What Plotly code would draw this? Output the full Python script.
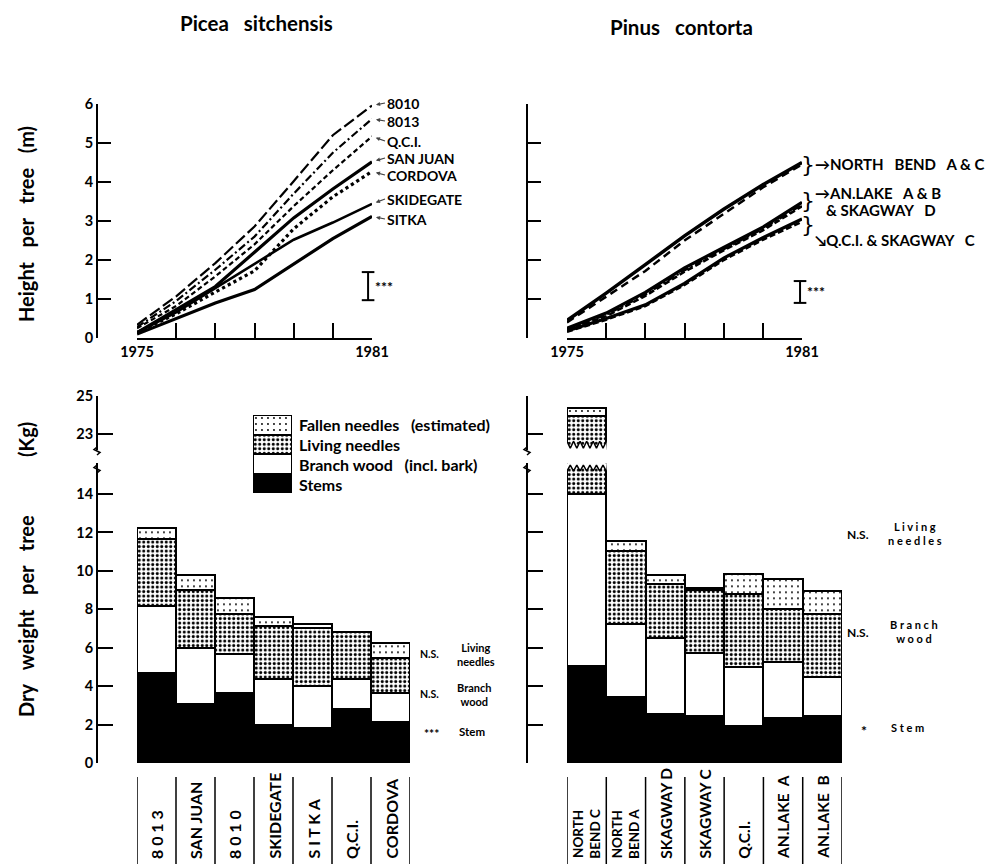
import numpy as np
import plotly.graph_objects as go

W, H = 1000, 864
OFF = 8  # the page body margin shifts the figure; compensate
def px(x): return (x - OFF) / W
def py(y): return 1 - (y - OFF) / H

FONT = "Lato"
NB = "\u00a0"

# ---------------- data ----------------
years = [1975, 1976, 1977, 1978, 1979, 1980, 1981]

# Picea sitchensis height per tree (m)
picea_names = ["8010", "8013", "Q.C.I.", "SAN JUAN", "CORDOVA", "SKIDEGATE", "SITKA"]
h_8010 = [0.34, 1.07, 1.92, 2.86, 4.02, 5.20, 5.96]
h_8013 = [0.28, 0.95, 1.75, 2.60, 3.70, 4.75, 5.62]
h_qci = [0.25, 0.82, 1.58, 2.40, 3.38, 4.30, 5.17]
h_sanjuan = [0.14, 0.73, 1.32, 2.20, 3.08, 3.82, 4.52]
h_cordova = [0.14, 0.62, 1.18, 1.72, 2.80, 3.62, 4.27]
h_skidegate = [0.14, 0.66, 1.28, 1.90, 2.52, 2.96, 3.44]
h_sitka = [0.10, 0.50, 0.90, 1.24, 1.90, 2.55, 3.12]
picea_lsd = 0.72

# Pinus contorta height per tree (m)
h_nbc = [0.45, 1.15, 1.88, 2.62, 3.30, 3.93, 4.50]
h_nba = [0.40, 1.05, 1.72, 2.50, 3.18, 3.86, 4.45]
h_ana = [0.25, 0.64, 1.17, 1.80, 2.32, 2.84, 3.48]
h_anb = [0.22, 0.60, 1.12, 1.74, 2.28, 2.80, 3.42]
h_skd = [0.20, 0.56, 1.08, 1.70, 2.25, 2.76, 3.38]
h_pqci = [0.18, 0.50, 0.85, 1.40, 2.05, 2.57, 3.05]
h_skc = [0.16, 0.47, 0.82, 1.36, 2.00, 2.52, 2.98]
pinus_lsd = 0.56

# Dry weight per tree (kg)
picea_sites = ["8 0 1 3", "SAN JUAN", "8 0 1 0", "SKIDEGATE", "S I T K A", "Q.C.I.", "CORDOVA"]
picea_stem = [4.65, 3.04, 3.64, 1.96, 1.79, 2.81, 2.13]
picea_branch = [3.50, 2.95, 2.00, 2.41, 2.20, 1.56, 1.51]
picea_living = [3.51, 3.00, 2.12, 2.74, 3.04, 2.45, 1.83]
picea_fallen = [0.57, 0.76, 0.79, 0.47, 0.17, 0.00, 0.74]

pinus_sites = ["NORTH<br>BEND C", "NORTH<br>BEND A", "SKAGWAY D", "SKAGWAY C",
               "Q.C.I.", "AN.LAKE\u00a0\u00a0A", "AN.LAKE\u00a0\u00a0B"]
pinus_stem = [5.02, 3.44, 2.53, 2.41, 1.89, 2.35, 2.41]
pinus_branch = [8.98, 3.78, 3.96, 3.29, 3.09, 2.89, 2.06]
pinus_living = [9.94, 3.81, 2.79, 3.29, 3.78, 2.78, 3.26]
pinus_fallen = [0.42, 0.53, 0.48, 0.12, 1.07, 1.52, 1.20]

# significance bars (kg): (low, high)
picea_sig = {"living": (5.10, 6.25), "branch": (3.02, 4.17), "stem": (1.04, 2.24)}
pinus_sig = {"living": (9.53, 14.11), "branch": (4.01, 9.11), "stem": (0.99, 2.60)}

components = ["Stems", "Branch wood", "Living needles", "Fallen needles"]

# ---------------- styles ----------------
BLK = "black"
LINE = dict(color=BLK, width=2)
comp_marker = {
    "Stems": dict(color=BLK, line=LINE),
    "Branch wood": dict(color="white", line=LINE),
    "Living needles": dict(color="white", line=LINE,
                           pattern=dict(shape=".", fgcolor=BLK, bgcolor="white", size=4.5, solidity=0.36)),
    "Fallen needles": dict(color="white", line=LINE,
                           pattern=dict(shape=".", fgcolor=BLK, bgcolor="white", size=6, solidity=0.08)),
}

fig = go.Figure()


def text_at(x, y, t, size, xanchor="center", yanchor="middle", **kw):
    fig.add_annotation(x=px(x), y=py(y), xref="paper", yref="paper", text=t, showarrow=False,
                       xanchor=xanchor, yanchor=yanchor, font=dict(size=size, **kw.pop("font", {})), **kw)


# ---------------- height line charts ----------------
picea_series = [h_8010, h_8013, h_qci, h_sanjuan, h_cordova, h_skidegate, h_sitka]
picea_style = [("12px,4px", 2.2), ("8px,3px,2px,3px", 2.2), ("5px,3px", 2.2), ("solid", 3.2),
               ("dot", 3.2), ("solid", 2.6), ("solid", 3.2)]
for name, ys, (dash, w) in zip(picea_names, picea_series, picea_style):
    fig.add_trace(go.Scatter(x=years, y=ys, mode="lines", line=dict(color=BLK, width=w, dash=dash),
                             xaxis="x", yaxis="y", cliponaxis=False, showlegend=False, name=name))

pinus_series = [h_nbc, h_nba, h_ana, h_anb, h_skd, h_pqci, h_skc]
pinus_style = [("solid", 3.5), ("8px,5px", 2.5), ("solid", 3.2), ("8px,3px,2px,3px", 2.6),
               ("6px,3px", 2.6), ("solid", 3.2), ("6px,3px", 2.6)]
for ys, (dash, w) in zip(pinus_series, pinus_style):
    fig.add_trace(go.Scatter(x=years, y=ys, mode="lines", line=dict(color=BLK, width=w, dash=dash),
                             xaxis="x2", yaxis="y2", cliponaxis=False, showlegend=False))

# LSD bars on height charts
for ax, ay, xpos, lsd, y0 in [("x", "y", 1980.9, picea_lsd, 0.97), ("x2", "y2", 1980.95, pinus_lsd, 0.90)]:
    fig.add_trace(go.Scatter(x=[xpos, xpos], y=[y0, y0 + lsd], mode="lines+markers",
                             line=dict(color=BLK, width=2),
                             marker=dict(symbol="line-ew-open", size=9, line=dict(width=2, color=BLK)),
                             xaxis=ax, yaxis=ay, cliponaxis=False, showlegend=False))
    fig.add_annotation(x=xpos, y=y0 + lsd / 2, xref=ax, yref=ay, text="***", showarrow=False,
                       xanchor="left", yanchor="middle", xshift=5, font=dict(size=14))

# labels for Picea lines
label_y = [103, 121, 141, 158, 175, 199, 219]
for name, ys, ly in zip(picea_names, picea_series, label_y):
    end_px = 338 - 39 * ys[-1]
    fig.add_annotation(x=years[-1], y=ys[-1], xref="x", yref="y", text=name, showarrow=True,
                       ax=13, ay=ly - end_px, xanchor="left", yanchor="middle", arrowhead=2,
                       arrowsize=0.7, arrowwidth=1.2, standoff=4, font=dict(size=14))

# brace labels for Pinus
for yc in [164, 200, 224]:
    text_at(808, yc, "}", 22, font=dict(weight="normal", family="DejaVu Sans"))
brace_texts = [("\u2192NORTH" + NB * 3 + "BEND" + NB * 3 + "A & C", 813, 164),
               ("\u2192AN.LAKE" + NB * 3 + "A & B", 813, 193),
               (NB * 3 + "& SKAGWAY" + NB * 3 + "D", 813, 210),
               ("\u2198Q.C.I. & SKAGWAY" + NB * 3 + "C", 813, 240)]
for t, x, y in brace_texts:
    text_at(x, y, t, 15, xanchor="left")

# ---------------- dry weight bars ----------------
def add_bars(sites, parts, xa_lo, ya_lo, xa_hi, ya_hi):
    idx = list(range(len(sites)))
    for comp, vals in zip(components, parts):
        for xa, ya in [(xa_lo, ya_lo), (xa_hi, ya_hi)]:
            fig.add_trace(go.Bar(x=idx, y=vals, width=1, marker=comp_marker[comp],
                                 xaxis=xa, yaxis=ya, showlegend=False, name=comp))

add_bars(picea_sites, [picea_stem, picea_branch, picea_living, picea_fallen], "x3", "y3", "x4", "y4")
add_bars(pinus_sites, [pinus_stem, pinus_branch, pinus_living, pinus_fallen], "x5", "y5", "x6", "y6")

LO_TOP = 15.6
HI_BOT = 22.16
# zigzag cut on any bar crossing the axis break
def zig(xc, lo, hi, teeth=6):
    xs = np.linspace(xc - 0.5, xc + 0.5, 2 * teeth + 1)
    ys = [lo if i % 2 == 0 else hi for i in range(len(xs))]
    return list(xs), ys

for parts, xa_lo, ya_lo, xa_hi, ya_hi in [
        ([pinus_stem, pinus_branch, pinus_living, pinus_fallen], "x5", "y5", "x6", "y6"),
        ([picea_stem, picea_branch, picea_living, picea_fallen], "x3", "y3", "x4", "y4")]:
    totals = np.sum(np.array(parts), axis=0)
    for i, tot in enumerate(totals):
        if tot > LO_TOP:
            xs, ys = zig(i, 15.2, 15.5)
            fig.add_trace(go.Scatter(x=xs + [i + 0.55, i - 0.55, i - 0.55], y=ys + [LO_TOP + 1, LO_TOP + 1, ys[0]],
                                     fill="toself", fillcolor="white", mode="none",
                                     xaxis=xa_lo, yaxis=ya_lo, showlegend=False, hoverinfo="skip"))
            fig.add_trace(go.Scatter(x=xs, y=ys, mode="lines", line=dict(color=BLK, width=1.5),
                                     xaxis=xa_lo, yaxis=ya_lo, showlegend=False, hoverinfo="skip"))
            xs2, ys2 = zig(i, 22.62, 22.25)
            fig.add_trace(go.Scatter(x=xs2 + [i + 0.55, i - 0.55, i - 0.55], y=ys2 + [HI_BOT - 1, HI_BOT - 1, ys2[0]],
                                     fill="toself", fillcolor="white", mode="none",
                                     xaxis=xa_hi, yaxis=ya_hi, showlegend=False, hoverinfo="skip"))
            fig.add_trace(go.Scatter(x=xs2, y=ys2, mode="lines", line=dict(color=BLK, width=1.5),
                                     xaxis=xa_hi, yaxis=ya_hi, showlegend=False, hoverinfo="skip"))

# significance bars on dry-weight charts
for xa, ya, xpos, sig in [("x3", "y3", 7.45, picea_sig), ("x5", "y5", 7.41, pinus_sig)]:
    for key in ["living", "branch", "stem"]:
        lo, hi = sig[key]
        fig.add_trace(go.Scatter(x=[xpos, xpos], y=[lo, hi], mode="lines+markers",
                                 line=dict(color=BLK, width=2),
                                 marker=dict(symbol="line-ew-open", size=9, line=dict(width=2, color=BLK)),
                                 xaxis=xa, yaxis=ya, cliponaxis=False, showlegend=False))

# texts of significance
sig_texts = [
    ("N.S.", 441, 654, "right", 10.5), ("Living<br>needles", 455, 654, "left", 11),
    ("N.S.", 441, 694, "right", 10.5), ("Branch<br>wood", 455, 694, "left", 11),
    ("***", 441, 733, "right", 12), ("Stem", 457, 731, "left", 11.5),
    ("N.S.", 858, 534, "center", 12), ("L i v i n g<br>n e e d l e s", 915, 533, "center", 11),
    ("N.S.", 858, 632, "center", 12), ("B r a n c h<br>w o o d", 914, 631, "center", 11),
    ("*", 864, 730, "center", 14), ("S t e m", 907, 727, "center", 11),
]
for t, x, y, anc, s in sig_texts:
    text_at(x, y, t, s, xanchor=anc)

# category labels under bars + dividers
for sites, xa, fs in [(picea_sites, "x3", 16), (pinus_sites, "x5", 15.5)]:
    for i, s in enumerate(sites):
        size = 13.5 if "<br>" in s else fs
        fig.add_annotation(x=i, y=py(861), xref=xa, yref="paper", text=s, showarrow=False,
                           textangle=-90, xanchor="center", yanchor="bottom", font=dict(size=size))
    for i in range(len(sites) + 1):
        fig.add_shape(type="line", xref=xa, yref="paper", x0=i - 0.5, x1=i - 0.5,
                      y0=py(868), y1=py(777), line=dict(color=BLK, width=1.5))

# legend swatches (a single stacked bar)
for comp in components:
    fig.add_trace(go.Bar(x=[0], y=[1], width=1, marker=comp_marker[comp], xaxis="x7", yaxis="y7",
                         showlegend=False))
legend_texts = [("Fallen needles" + NB * 3 + "(estimated)", 425), ("Living needles", 444),
                ("Branch wood" + NB * 3 + "(incl. bark)", 464), ("Stems", 484)]
for t, y in legend_texts:
    text_at(297, y, t, 16, xanchor="left")

# axis break squiggles
for ax_x in [97, 527]:
    for y0 in [447, 465]:
        path = "M {:.4f},{:.4f} L {:.4f},{:.4f} L {:.4f},{:.4f} L {:.4f},{:.4f}".format(
            px(ax_x), py(y0), px(ax_x - 3), py(y0 + 2.5), px(ax_x + 3), py(y0 + 5.5), px(ax_x), py(y0 + 8))
        fig.add_shape(type="path", xref="paper", yref="paper", path=path, line=dict(color=BLK, width=1.5))

# titles
text_at(256, 23, "Picea" + NB * 3 + "sitchensis", 20.5)
text_at(681, 27, "Pinus" + NB * 3 + "contorta", 20.5)
text_at(26, 224, "Height" + NB * 3 + "per" + NB * 3 + "tree" + NB * 3 + "(m)", 20, textangle=-90)
text_at(26, 570, "Dry" + NB * 3 + "weight" + NB * 3 + "per" + NB * 3 + "tree" + NB * 12 + "(Kg)", 20,
        textangle=-90)

# ---------------- axes ----------------
ax_common = dict(showline=True, linecolor=BLK, linewidth=2, ticks="inside", tickcolor=BLK,
                 tickwidth=2, showgrid=False, zeroline=False, automargin=False,
                 tickfont=dict(size=14.5))

year_text = ["1975", "", "", "", "", "", "1981"]
lh_dom = [py(338), py(104)]
lo_dom = [py(763), py(763 - 19.21 * LO_TOP)]
hi_dom = [py(450), py(396)]
fig.update_layout(
    template="none",
    xaxis=dict(domain=[px(137), px(372)], range=[1975, 1981], anchor="y", tickvals=years,
               ticktext=year_text, ticklen=15, **ax_common),
    yaxis=dict(domain=lh_dom, range=[0, 6], anchor="free", position=px(97), tickvals=list(range(7)),
               ticklen=13, **ax_common),
    xaxis2=dict(domain=[px(567), px(802)], range=[1975, 1981], anchor="y2", tickvals=years,
                ticktext=year_text, ticklen=15, **ax_common),
    yaxis2=dict(domain=lh_dom, range=[0, 6], anchor="free", position=px(527), tickvals=list(range(7)),
                showticklabels=False, ticklen=13, **ax_common),
    # bars, lower and upper parts
    xaxis3=dict(domain=[px(137), px(410)], range=[-0.5, 6.5], anchor="y3", visible=False),
    yaxis3=dict(domain=lo_dom, range=[0, LO_TOP], anchor="free",
                position=px(97), tickvals=list(range(0, 15, 2)), ticklen=15, **ax_common),
    xaxis4=dict(domain=[px(137), px(410)], range=[-0.5, 6.5], anchor="y4", visible=False),
    yaxis4=dict(domain=hi_dom, range=[HI_BOT, 25], anchor="free", position=px(97),
                tickvals=[23, 25], ticklen=15, **ax_common),
    xaxis5=dict(domain=[px(567), px(842)], range=[-0.5, 6.5], anchor="y5", visible=False),
    yaxis5=dict(domain=lo_dom, range=[0, LO_TOP], anchor="free",
                position=px(527), tickvals=list(range(0, 15, 2)), showticklabels=False, ticklen=15,
                **ax_common),
    xaxis6=dict(domain=[px(567), px(842)], range=[-0.5, 6.5], anchor="y6", visible=False),
    yaxis6=dict(domain=hi_dom, range=[HI_BOT, 25], anchor="free", position=px(527),
                tickvals=[23, 25], showticklabels=False, ticklen=15, **ax_common),
    xaxis7=dict(domain=[px(253), px(292)], range=[-0.5, 0.5], anchor="y7", visible=False),
    yaxis7=dict(domain=[py(493), py(415)], range=[0, 4], anchor="x7", visible=False),
    barmode="stack", bargap=0,
    width=W, height=H, margin=dict(l=0, r=0, t=0, b=0, pad=0, autoexpand=False),
    paper_bgcolor="white", plot_bgcolor="white", showlegend=False,
    font=dict(family=FONT, color=BLK, size=13, weight="bold"),
)

fig.write_html("out.html")
